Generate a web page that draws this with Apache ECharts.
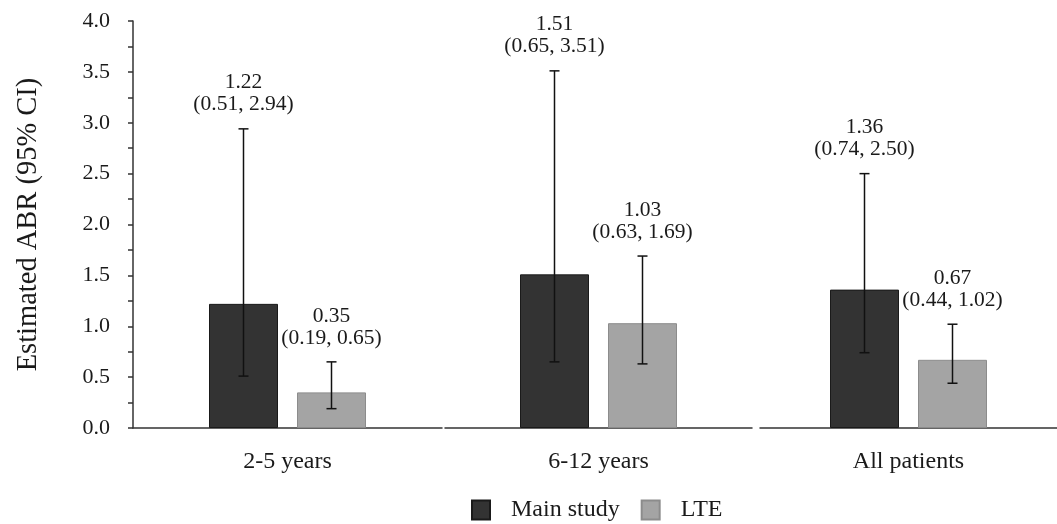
<!DOCTYPE html>
<html>
<head>
<meta charset="utf-8">
<script src="https://cdn.jsdelivr.net/npm/echarts@6/dist/echarts.min.js"></script>
<style>html,body{margin:0;padding:0;background:#fff}#c{width:1057px;height:524px}</style>
</head>
<body>
<div id="c"></div>
<script>
const categories = ['2-5 years', '6-12 years', 'All patients'];
const mainStudy = [1.22, 1.51, 1.36];
const mainLow = [0.51, 0.65, 0.74];
const mainHigh = [2.94, 3.51, 2.50];
const lte = [0.35, 1.03, 0.67];
const lteLow = [0.19, 0.63, 0.44];
const lteHigh = [0.65, 1.69, 1.02];
const seriesNames = ['Main study', 'LTE'];
const yName = 'Estimated ABR (95% CI)';

const FONT = 'Liberation Serif, Times New Roman, serif';
const BAR_W = 69, BAR_GAP = 19;
const gridPos = [[133, 309], [445, 307], [760, 310]];

const grids = [], xAxes = [], yAxes = [], series = [];
gridPos.forEach((g, i) => {
  grids.push({ left: g[0], width: g[1], top: 21, height: 407 });
  xAxes.push({
    type: 'category', gridIndex: i, data: [categories[i]],
    axisLine: { lineStyle: { color: '#333', width: 1.5 } },
    axisTick: { show: false },
    axisLabel: { fontFamily: FONT, fontSize: 24, color: '#1a1a1a', margin: 22 }
  });
  yAxes.push({
    type: 'value', gridIndex: i, min: 0, max: 4, interval: 0.5,
    show: i === 0,
    name: i === 0 ? yName : '', nameLocation: 'middle', nameGap: 90,
    nameTextStyle: { fontFamily: FONT, fontSize: 28.5, color: '#1a1a1a' },
    axisLine: { show: true, lineStyle: { color: '#333', width: 1.5 } },
    axisTick: { show: true, length: 5, lineStyle: { color: '#333', width: 1.5 } },
    minorTick: { show: true, splitNumber: 2, length: 5, lineStyle: { color: '#333', width: 1.5 } },
    splitLine: { show: false },
    axisLabel: { fontFamily: FONT, fontSize: 22, color: '#1a1a1a', margin: 23,
      formatter: v => v.toFixed(1) }
  });
  series.push({
    name: seriesNames[0], type: 'bar', xAxisIndex: i, yAxisIndex: i,
    data: [mainStudy[i]], barWidth: BAR_W, barGap: (BAR_GAP / BAR_W * 100) + '%',
    itemStyle: { color: '#333333', borderColor: '#1a1a1a', borderWidth: 1 }
  });
  series.push({
    name: seriesNames[1], type: 'bar', xAxisIndex: i, yAxisIndex: i,
    data: [lte[i]], barWidth: BAR_W,
    itemStyle: { color: '#a4a4a4', borderColor: '#8c8c8c', borderWidth: 1 }
  });
  series.push({
    type: 'custom', xAxisIndex: i, yAxisIndex: i, z: 5,
    data: [[0, mainLow[i], mainHigh[i], mainStudy[i], -1], [0, lteLow[i], lteHigh[i], lte[i], 1]],
    renderItem: function (params, api) {
      const off = api.value(4) * (BAR_W + BAR_GAP) / 2;
      const lo = api.coord([api.value(0), api.value(1)]);
      const hi = api.coord([api.value(0), api.value(2)]);
      const x = lo[0] + off;
      const st = { stroke: '#111', lineWidth: 1.5 };
      const txt = api.value(3).toFixed(2) + '\n(' + api.value(1).toFixed(2) + ', ' + api.value(2).toFixed(2) + ')';
      return {
        type: 'group',
        children: [
          { type: 'line', shape: { x1: x, y1: lo[1], x2: x, y2: hi[1] }, style: st },
          { type: 'line', shape: { x1: x - 5, y1: hi[1], x2: x + 5, y2: hi[1] }, style: st },
          { type: 'line', shape: { x1: x - 5, y1: lo[1], x2: x + 5, y2: lo[1] }, style: st },
          { type: 'text', x: x, y: hi[1] - 13,
            style: { text: txt, fontFamily: FONT, fontSize: 21.5, lineHeight: 22,
              fill: '#1a1a1a', align: 'center', verticalAlign: 'bottom' } }
        ]
      };
    }
  });
});

const chart = echarts.init(document.getElementById('c'), null, { renderer: 'canvas' });
chart.setOption({
  animation: false,
  backgroundColor: '#fff',
  grid: grids, xAxis: xAxes, yAxis: yAxes,
  legend: {
    data: seriesNames, left: 466, top: 493, icon: 'rect', itemWidth: 18, itemHeight: 19,
    itemGap: 21,
    textStyle: { fontFamily: FONT, fontSize: 24, color: '#1a1a1a', padding: [0, 0, 0, 16] }
  },
  series: series
});
</script>
</body>
</html>
